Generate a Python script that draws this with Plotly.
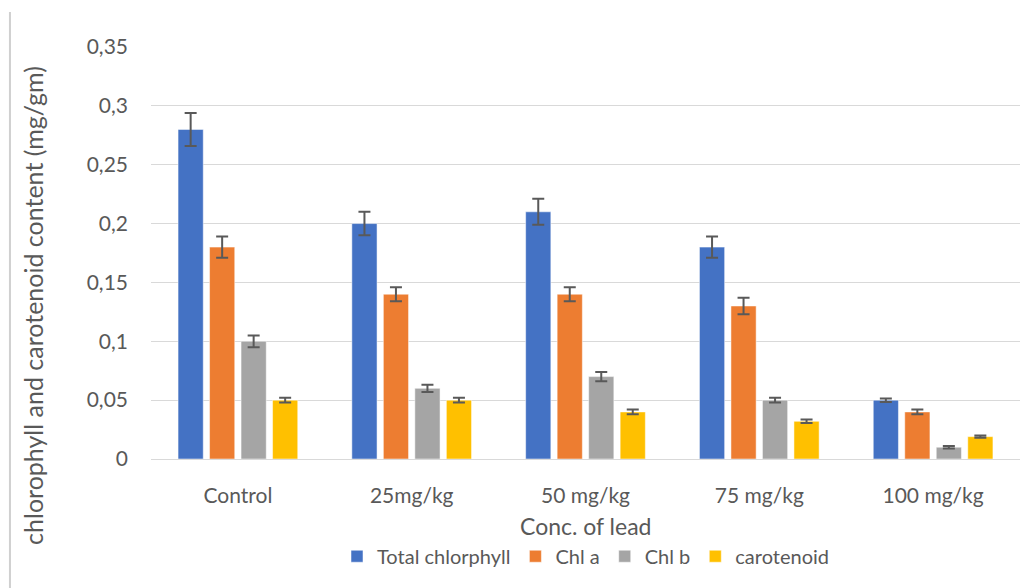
import plotly.graph_objects as go

categories = ["Control", "25mg/kg", "50 mg/kg", "75 mg/kg", "100 mg/kg"]
series_names = ["Total chlorphyll", "Chl a", "Chl b", "carotenoid"]
total_chl = [0.28, 0.20, 0.21, 0.18, 0.05]
total_chl_err = [0.014, 0.010, 0.011, 0.009, 0.0015]
chl_a = [0.18, 0.14, 0.14, 0.13, 0.04]
chl_a_err = [0.009, 0.006, 0.006, 0.007, 0.002]
chl_b = [0.10, 0.06, 0.07, 0.05, 0.01]
chl_b_err = [0.005, 0.003, 0.004, 0.002, 0.001]
carotenoid = [0.05, 0.05, 0.04, 0.032, 0.019]
carotenoid_err = [0.002, 0.002, 0.002, 0.0015, 0.001]
colors = ["#4472C4", "#ED7D31", "#A5A5A5", "#FFC000"]
tick_vals = [0, 0.05, 0.1, 0.15, 0.2, 0.25, 0.3, 0.35]

fig = go.Figure()
for name, vals, errs, col in zip(series_names,
                                 [total_chl, chl_a, chl_b, carotenoid],
                                 [total_chl_err, chl_a_err, chl_b_err, carotenoid_err],
                                 colors):
    fig.add_trace(go.Bar(
        x=categories, y=vals, name=name,
        marker=dict(color=col, line=dict(color="rgba(255,255,255,0.5)", width=1)),
        error_y=dict(type="data", array=errs, visible=True,
                     color="#595959", thickness=2, width=6),
    ))

font_family = "Lato, 'Open Sans', sans-serif"
fig.update_layout(
    width=1035, height=588,
    paper_bgcolor="white", plot_bgcolor="white",
    separators=",.",
    barmode="group", bargap=0.275, bargroupgap=0.2,
    margin=dict(l=143, r=23, t=39, b=137, autoexpand=False),
    font=dict(family=font_family, color="#595959", size=21),
    xaxis=dict(
        showgrid=False, showline=False, ticks="", automargin=False,
        tickfont=dict(size=21, color="#595959"),
        ticklabelstandoff=22,
    ),
    yaxis=dict(
        range=[0, 0.35], tickvals=tick_vals, automargin=False,
        showgrid=True, gridcolor="#D9D9D9", gridwidth=1,
        zeroline=True, zerolinecolor="#D9D9D9", zerolinewidth=1,
        showline=False, ticks="",
        tickfont=dict(size=21, color="#595959"),
        ticklabelstandoff=22,
    ),
    legend=dict(orientation="h", x=0.5, xanchor="center", y=-0.236, yanchor="middle",
                font=dict(size=20, color="#595959"), itemwidth=30, traceorder="normal",
                tracegroupgap=0),
    showlegend=True,
)
fig.add_annotation(
    text="Conc. of lead", xref="paper", yref="paper", x=0.5, y=-0.163,
    showarrow=False, font=dict(size=23, color="#595959"), xanchor="center", yanchor="middle",
)
fig.add_annotation(
    text="chlorophyll and carotenoid content (mg/gm)",
    xref="paper", yref="paper", x=-0.1358, y=0.374, textangle=-90,
    showarrow=False, font=dict(size=25, color="#595959"), xanchor="center", yanchor="middle",
)
fig.add_shape(type="line", xref="paper", yref="paper", x0=-0.1623, x1=-0.1623,
              y0=1.085, y1=-0.32, line=dict(color="#D0D0D0", width=2))

fig.write_html("out.html")
